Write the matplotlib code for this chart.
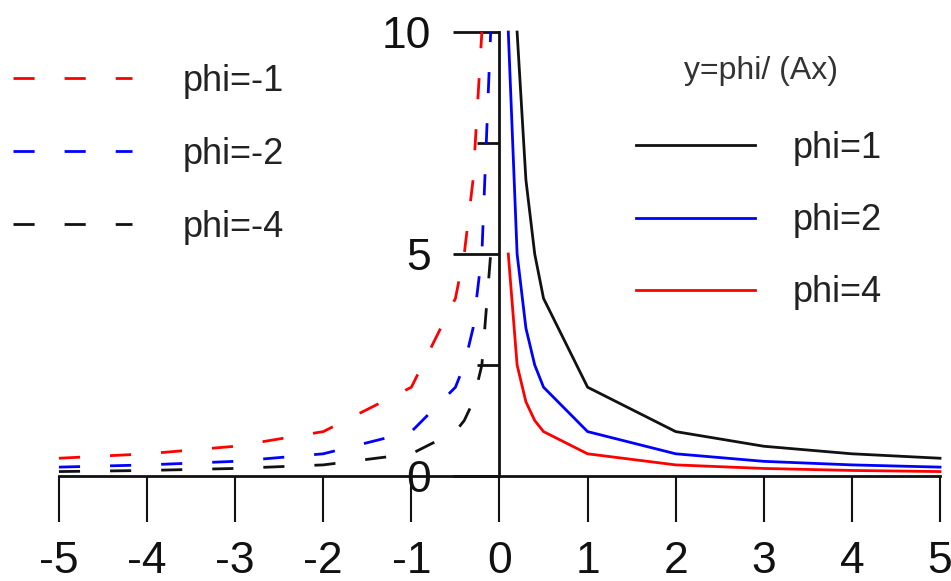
import matplotlib
matplotlib.use("Agg")
import matplotlib.pyplot as plt

plt.rcParams['font.family'] = ['Liberation Sans', 'DejaVu Sans']

# values (piecewise curves)
x_pos = [0.1, 0.2, 0.3, 0.4, 0.5, 1, 2, 3, 4, 5]
y_phi1 = [None, 10, 6.67, 5, 4, 2, 1, 0.67, 0.5, 0.4]
y_phi2 = [10, 5, 3.33, 2.5, 2, 1, 0.5, 0.33, 0.25, 0.2]
y_phi4 = [5, 2.5, 1.67, 1.25, 1, 0.5, 0.25, 0.17, 0.125, 0.1]

x_neg = [-5, -4, -3, -2, -1, -0.5, -0.4, -0.3, -0.2, -0.1]
y_phim1 = [0.4, 0.5, 0.67, 1, 2, 4, 5, 6.67, 10, None]
y_phim2 = [0.2, 0.25, 0.33, 0.5, 1, 2, 2.5, 3.33, 5, 10]
y_phim4 = [0.1, 0.125, 0.17, 0.25, 0.5, 1, 1.25, 1.67, 2.5, 5]

x_ticks = [-5, -4, -3, -2, -1, 0, 1, 2, 3, 4, 5]
y_ticks = [0, 5, 10]
y_minor = [2.5, 7.5]


def clean(xs, ys):
    pts = [(a, b) for a, b in zip(xs, ys) if b is not None]
    return [p[0] for p in pts], [p[1] for p in pts]


fig = plt.figure(figsize=(9.51, 5.81), dpi=100)
ax = fig.add_axes([0.00641, 0.1578, 0.9913, 0.8329])
ax.set_xlim(-5.6, 5.1)
ax.set_ylim(-0.3, 10.6)

lw = 2.0
dash = (7.6, 10.8)

h_m1, = ax.plot(*clean(x_neg, y_phim1), color='#ff0000', lw=lw, dashes=dash, label='phi=-1')
h_m2, = ax.plot(*clean(x_neg, y_phim2), color='#0000ff', lw=lw, dashes=dash, label='phi=-2')
h_m4, = ax.plot(*clean(x_neg, y_phim4), color='#111111', lw=lw, dashes=dash, label='phi=-4')

h_1, = ax.plot(*clean(x_pos, y_phi1), color='#111111', lw=lw, label='phi=1')
h_2, = ax.plot(*clean(x_pos, y_phi2), color='#0000ff', lw=lw, label='phi=2')
h_4, = ax.plot(*clean(x_pos, y_phi4), color='#ff0000', lw=lw, label='phi=4')

for s in ['top', 'right']:
    ax.spines[s].set_visible(False)
ax.spines['left'].set_position(('data', 0))
ax.spines['bottom'].set_position(('data', 0))
ax.spines['left'].set_bounds(0, 10)
ax.spines['bottom'].set_bounds(-5, 5)
for s in ['left', 'bottom']:
    ax.spines[s].set_linewidth(2)
    ax.spines[s].set_color('#111111')

ax.set_xticks(x_ticks)
ax.set_xticklabels([str(t) for t in x_ticks])
ax.set_yticks(y_ticks)
ax.set_yticklabels([str(t) for t in y_ticks])
ax.set_yticks(y_minor, minor=True)
ax.tick_params(axis='x', direction='out', length=33, width=1.5, pad=14,
               labelsize=32, colors='#111111')
ax.tick_params(axis='y', which='major', direction='out', length=33, width=2,
               pad=16, labelsize=32, colors='#111111')
ax.tick_params(axis='y', which='minor', direction='out', length=16, width=2,
               colors='#111111')

leg1 = ax.legend(handles=[h_m1, h_m2, h_m4], loc='upper left',
                 bbox_to_anchor=(13 / 951, (581 - 64) / 581),
                 bbox_transform=fig.transFigure, frameon=False,
                 borderpad=0, borderaxespad=0, fontsize=26,
                 handlelength=3.3, handletextpad=1.4, labelspacing=1.05,
                 labelcolor='#222222')
ax.add_artist(leg1)

leg2 = ax.legend(handles=[h_1, h_2, h_4], loc='upper left',
                 bbox_to_anchor=(636 / 951, (581 - 131) / 581),
                 bbox_transform=fig.transFigure, frameon=False,
                 borderpad=0, borderaxespad=0, fontsize=26,
                 handlelength=3.3, handletextpad=1.05, labelspacing=1.03,
                 labelcolor='#222222')

fig.text(761 / 951, (581 - 71) / 581, 'y=phi/ (Ax)', fontsize=23,
         color='#333333', ha='center', va='center')

fig.savefig('out.png', dpi=100)
